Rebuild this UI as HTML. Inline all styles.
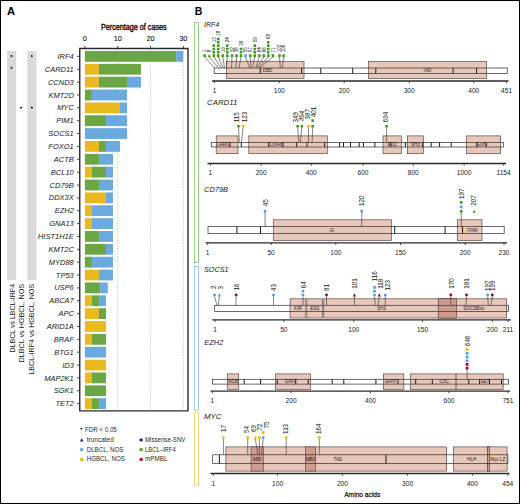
<!DOCTYPE html>
<html><head><meta charset="utf-8"><style>
html,body{margin:0;padding:0;background:#fff;}
svg{display:block;font-family:"Liberation Sans", sans-serif;}
</style></head><body>
<svg width="520" height="504" viewBox="0 0 520 504">
<rect width="520" height="504" fill="#fff"/>
<rect x="0.5" y="0.5" width="519" height="503" fill="none" stroke="#000" stroke-width="1"/>
<text x="7.00" y="15.20" font-size="11.2" text-anchor="start" font-weight="bold" font-style="normal" fill="#000" >A</text>
<text x="194.70" y="15.30" font-size="11.2" text-anchor="start" font-weight="bold" font-style="normal" fill="#000" textLength="7.6" lengthAdjust="spacingAndGlyphs">B</text>
<rect x="7" y="51" width="9.1" height="229.2" fill="#dadada"/>
<rect x="27.3" y="51" width="9.2" height="229.2" fill="#dadada"/>
<line x1="117.73" y1="49" x2="117.73" y2="410" stroke="#b5b5b5" stroke-width="0.6" stroke-dasharray="1.6,1.2"/>
<line x1="150.56" y1="49" x2="150.56" y2="410" stroke="#b5b5b5" stroke-width="0.6" stroke-dasharray="1.6,1.2"/>
<line x1="183.39" y1="49" x2="183.39" y2="410" stroke="#b5b5b5" stroke-width="0.6" stroke-dasharray="1.6,1.2"/>
<rect x="84.90" y="51.00" width="91.26" height="10.8" fill="#6aa644"/>
<rect x="176.16" y="51.00" width="7.02" height="10.8" fill="#6aaade"/>
<text x="73.80" y="59.00" font-size="7.5" text-anchor="end" font-weight="normal" font-style="italic" fill="#1a1a1a" >IRF4</text>
<line x1="76.9" y1="56.40" x2="79.5" y2="56.40" stroke="#222" stroke-width="0.8"/>
<rect x="84.90" y="63.86" width="14.04" height="10.8" fill="#e9b920"/>
<rect x="98.94" y="63.86" width="42.12" height="10.8" fill="#6aa644"/>
<text x="73.80" y="71.86" font-size="7.5" text-anchor="end" font-weight="normal" font-style="italic" fill="#1a1a1a" >CARD11</text>
<line x1="76.9" y1="69.26" x2="79.5" y2="69.26" stroke="#222" stroke-width="0.8"/>
<rect x="84.90" y="76.72" width="14.04" height="10.8" fill="#e9b920"/>
<rect x="98.94" y="76.72" width="28.08" height="10.8" fill="#6aa644"/>
<rect x="127.02" y="76.72" width="14.04" height="10.8" fill="#6aaade"/>
<text x="73.80" y="84.72" font-size="7.5" text-anchor="end" font-weight="normal" font-style="italic" fill="#1a1a1a" >CCND3</text>
<line x1="76.9" y1="82.12" x2="79.5" y2="82.12" stroke="#222" stroke-width="0.8"/>
<rect x="84.90" y="89.58" width="7.02" height="10.8" fill="#6aa644"/>
<rect x="91.92" y="89.58" width="35.10" height="10.8" fill="#6aaade"/>
<text x="73.80" y="97.58" font-size="7.5" text-anchor="end" font-weight="normal" font-style="italic" fill="#1a1a1a" >KMT2D</text>
<line x1="76.9" y1="94.98" x2="79.5" y2="94.98" stroke="#222" stroke-width="0.8"/>
<rect x="84.90" y="102.44" width="35.10" height="10.8" fill="#e9b920"/>
<rect x="120.00" y="102.44" width="7.02" height="10.8" fill="#6aaade"/>
<text x="73.80" y="110.44" font-size="7.5" text-anchor="end" font-weight="normal" font-style="italic" fill="#1a1a1a" >MYC</text>
<line x1="76.9" y1="107.84" x2="79.5" y2="107.84" stroke="#222" stroke-width="0.8"/>
<rect x="84.90" y="115.30" width="21.06" height="10.8" fill="#6aa644"/>
<rect x="105.96" y="115.30" width="21.06" height="10.8" fill="#6aaade"/>
<text x="73.80" y="123.30" font-size="7.5" text-anchor="end" font-weight="normal" font-style="italic" fill="#1a1a1a" >PIM1</text>
<line x1="76.9" y1="120.70" x2="79.5" y2="120.70" stroke="#222" stroke-width="0.8"/>
<rect x="84.90" y="128.16" width="42.12" height="10.8" fill="#6aaade"/>
<text x="73.80" y="136.16" font-size="7.5" text-anchor="end" font-weight="normal" font-style="italic" fill="#1a1a1a" >SOCS1</text>
<line x1="76.9" y1="133.56" x2="79.5" y2="133.56" stroke="#222" stroke-width="0.8"/>
<rect x="84.90" y="141.02" width="14.04" height="10.8" fill="#e9b920"/>
<rect x="98.94" y="141.02" width="7.02" height="10.8" fill="#6aa644"/>
<rect x="105.96" y="141.02" width="14.04" height="10.8" fill="#6aaade"/>
<text x="73.80" y="149.02" font-size="7.5" text-anchor="end" font-weight="normal" font-style="italic" fill="#1a1a1a" >FOXO1</text>
<line x1="76.9" y1="146.42" x2="79.5" y2="146.42" stroke="#222" stroke-width="0.8"/>
<rect x="84.90" y="153.88" width="14.04" height="10.8" fill="#6aa644"/>
<rect x="98.94" y="153.88" width="14.04" height="10.8" fill="#6aaade"/>
<text x="73.80" y="161.88" font-size="7.5" text-anchor="end" font-weight="normal" font-style="italic" fill="#1a1a1a" >ACTB</text>
<line x1="76.9" y1="159.28" x2="79.5" y2="159.28" stroke="#222" stroke-width="0.8"/>
<rect x="84.90" y="166.74" width="7.02" height="10.8" fill="#e9b920"/>
<rect x="91.92" y="166.74" width="14.04" height="10.8" fill="#6aa644"/>
<rect x="105.96" y="166.74" width="7.02" height="10.8" fill="#6aaade"/>
<text x="73.80" y="174.74" font-size="7.5" text-anchor="end" font-weight="normal" font-style="italic" fill="#1a1a1a" >BCL10</text>
<line x1="76.9" y1="172.14" x2="79.5" y2="172.14" stroke="#222" stroke-width="0.8"/>
<rect x="84.90" y="179.60" width="14.04" height="10.8" fill="#6aa644"/>
<rect x="98.94" y="179.60" width="14.04" height="10.8" fill="#6aaade"/>
<text x="73.80" y="187.60" font-size="7.5" text-anchor="end" font-weight="normal" font-style="italic" fill="#1a1a1a" >CD79B</text>
<line x1="76.9" y1="185.00" x2="79.5" y2="185.00" stroke="#222" stroke-width="0.8"/>
<rect x="84.90" y="192.46" width="21.06" height="10.8" fill="#e9b920"/>
<rect x="105.96" y="192.46" width="7.02" height="10.8" fill="#6aaade"/>
<text x="73.80" y="200.46" font-size="7.5" text-anchor="end" font-weight="normal" font-style="italic" fill="#1a1a1a" >DDX3X</text>
<line x1="76.9" y1="197.86" x2="79.5" y2="197.86" stroke="#222" stroke-width="0.8"/>
<rect x="84.90" y="205.32" width="7.02" height="10.8" fill="#e9b920"/>
<rect x="91.92" y="205.32" width="21.06" height="10.8" fill="#6aaade"/>
<text x="73.80" y="213.32" font-size="7.5" text-anchor="end" font-weight="normal" font-style="italic" fill="#1a1a1a" >EZH2</text>
<line x1="76.9" y1="210.72" x2="79.5" y2="210.72" stroke="#222" stroke-width="0.8"/>
<rect x="84.90" y="218.18" width="7.02" height="10.8" fill="#e9b920"/>
<rect x="91.92" y="218.18" width="21.06" height="10.8" fill="#6aaade"/>
<text x="73.80" y="226.18" font-size="7.5" text-anchor="end" font-weight="normal" font-style="italic" fill="#1a1a1a" >GNA13</text>
<line x1="76.9" y1="223.58" x2="79.5" y2="223.58" stroke="#222" stroke-width="0.8"/>
<rect x="84.90" y="231.04" width="14.04" height="10.8" fill="#6aa644"/>
<rect x="98.94" y="231.04" width="14.04" height="10.8" fill="#6aaade"/>
<text x="73.80" y="239.04" font-size="7.5" text-anchor="end" font-weight="normal" font-style="italic" fill="#1a1a1a" >HIST1H1E</text>
<line x1="76.9" y1="236.44" x2="79.5" y2="236.44" stroke="#222" stroke-width="0.8"/>
<rect x="84.90" y="243.90" width="21.06" height="10.8" fill="#6aa644"/>
<rect x="105.96" y="243.90" width="7.02" height="10.8" fill="#6aaade"/>
<text x="73.80" y="251.90" font-size="7.5" text-anchor="end" font-weight="normal" font-style="italic" fill="#1a1a1a" >KMT2C</text>
<line x1="76.9" y1="249.30" x2="79.5" y2="249.30" stroke="#222" stroke-width="0.8"/>
<rect x="84.90" y="256.76" width="7.02" height="10.8" fill="#6aa644"/>
<rect x="91.92" y="256.76" width="21.06" height="10.8" fill="#6aaade"/>
<text x="73.80" y="264.76" font-size="7.5" text-anchor="end" font-weight="normal" font-style="italic" fill="#1a1a1a" >MYD88</text>
<line x1="76.9" y1="262.16" x2="79.5" y2="262.16" stroke="#222" stroke-width="0.8"/>
<rect x="84.90" y="269.62" width="14.04" height="10.8" fill="#e9b920"/>
<rect x="98.94" y="269.62" width="14.04" height="10.8" fill="#6aaade"/>
<text x="73.80" y="277.62" font-size="7.5" text-anchor="end" font-weight="normal" font-style="italic" fill="#1a1a1a" >TP53</text>
<line x1="76.9" y1="275.02" x2="79.5" y2="275.02" stroke="#222" stroke-width="0.8"/>
<rect x="84.90" y="282.48" width="15.30" height="10.8" fill="#6aa644"/>
<rect x="100.20" y="282.48" width="7.58" height="10.8" fill="#6aaade"/>
<text x="73.80" y="290.48" font-size="7.5" text-anchor="end" font-weight="normal" font-style="italic" fill="#1a1a1a" >USP6</text>
<line x1="76.9" y1="287.88" x2="79.5" y2="287.88" stroke="#222" stroke-width="0.8"/>
<rect x="84.90" y="295.34" width="7.02" height="10.8" fill="#e9b920"/>
<rect x="91.92" y="295.34" width="7.02" height="10.8" fill="#6aa644"/>
<rect x="98.94" y="295.34" width="7.02" height="10.8" fill="#6aaade"/>
<text x="73.80" y="303.34" font-size="7.5" text-anchor="end" font-weight="normal" font-style="italic" fill="#1a1a1a" >ABCA7</text>
<line x1="76.9" y1="300.74" x2="79.5" y2="300.74" stroke="#222" stroke-width="0.8"/>
<rect x="84.90" y="308.20" width="14.04" height="10.8" fill="#e9b920"/>
<rect x="98.94" y="308.20" width="7.02" height="10.8" fill="#6aa644"/>
<text x="73.80" y="316.20" font-size="7.5" text-anchor="end" font-weight="normal" font-style="italic" fill="#1a1a1a" >APC</text>
<line x1="76.9" y1="313.60" x2="79.5" y2="313.60" stroke="#222" stroke-width="0.8"/>
<rect x="84.90" y="321.06" width="21.06" height="10.8" fill="#e9b920"/>
<text x="73.80" y="329.06" font-size="7.5" text-anchor="end" font-weight="normal" font-style="italic" fill="#1a1a1a" >ARID1A</text>
<line x1="76.9" y1="326.46" x2="79.5" y2="326.46" stroke="#222" stroke-width="0.8"/>
<rect x="84.90" y="333.92" width="7.02" height="10.8" fill="#e9b920"/>
<rect x="91.92" y="333.92" width="14.04" height="10.8" fill="#6aa644"/>
<text x="73.80" y="341.92" font-size="7.5" text-anchor="end" font-weight="normal" font-style="italic" fill="#1a1a1a" >BRAF</text>
<line x1="76.9" y1="339.32" x2="79.5" y2="339.32" stroke="#222" stroke-width="0.8"/>
<rect x="84.90" y="346.78" width="21.06" height="10.8" fill="#6aaade"/>
<text x="73.80" y="354.78" font-size="7.5" text-anchor="end" font-weight="normal" font-style="italic" fill="#1a1a1a" >BTG1</text>
<line x1="76.9" y1="352.18" x2="79.5" y2="352.18" stroke="#222" stroke-width="0.8"/>
<rect x="84.90" y="359.64" width="21.06" height="10.8" fill="#e9b920"/>
<text x="73.80" y="367.64" font-size="7.5" text-anchor="end" font-weight="normal" font-style="italic" fill="#1a1a1a" >ID3</text>
<line x1="76.9" y1="365.04" x2="79.5" y2="365.04" stroke="#222" stroke-width="0.8"/>
<rect x="84.90" y="372.50" width="7.02" height="10.8" fill="#e9b920"/>
<rect x="91.92" y="372.50" width="14.04" height="10.8" fill="#6aa644"/>
<text x="73.80" y="380.50" font-size="7.5" text-anchor="end" font-weight="normal" font-style="italic" fill="#1a1a1a" >MAP2K1</text>
<line x1="76.9" y1="377.90" x2="79.5" y2="377.90" stroke="#222" stroke-width="0.8"/>
<rect x="84.90" y="385.36" width="21.06" height="10.8" fill="#6aa644"/>
<text x="73.80" y="393.36" font-size="7.5" text-anchor="end" font-weight="normal" font-style="italic" fill="#1a1a1a" >SGK1</text>
<line x1="76.9" y1="390.76" x2="79.5" y2="390.76" stroke="#222" stroke-width="0.8"/>
<rect x="84.90" y="398.22" width="7.02" height="10.8" fill="#e9b920"/>
<rect x="91.92" y="398.22" width="7.02" height="10.8" fill="#6aa644"/>
<rect x="98.94" y="398.22" width="7.02" height="10.8" fill="#6aaade"/>
<text x="73.80" y="406.22" font-size="7.5" text-anchor="end" font-weight="normal" font-style="italic" fill="#1a1a1a" >TET2</text>
<line x1="76.9" y1="403.62" x2="79.5" y2="403.62" stroke="#222" stroke-width="0.8"/>
<polygon points="11.50,54.55 11.91,55.43 12.88,55.55 12.17,56.22 12.35,57.17 11.50,56.70 10.65,57.17 10.83,56.22 10.12,55.55 11.09,55.43" fill="#111"/>
<polygon points="31.80,54.65 32.21,55.53 33.18,55.65 32.47,56.32 32.65,57.27 31.80,56.80 30.95,57.27 31.13,56.32 30.42,55.65 31.39,55.53" fill="#111"/>
<polygon points="11.50,66.41 11.91,67.29 12.88,67.41 12.17,68.08 12.35,69.03 11.50,68.56 10.65,69.03 10.83,68.08 10.12,67.41 11.09,67.29" fill="#111"/>
<polygon points="21.10,106.09 21.51,106.97 22.48,107.09 21.77,107.76 21.95,108.71 21.10,108.24 20.25,108.71 20.43,107.76 19.72,107.09 20.69,106.97" fill="#111"/>
<polygon points="31.80,106.09 32.21,106.97 33.18,107.09 32.47,107.76 32.65,108.71 31.80,108.24 30.95,108.71 31.13,107.76 30.42,107.09 31.39,106.97" fill="#111"/>
<path d="M79.75,48.5 H188 V410.9 H79.75 Z" fill="none" stroke="#2a2a2a" stroke-width="1.4"/>
<line x1="84.90" y1="45.8" x2="84.90" y2="48.5" stroke="#222" stroke-width="0.8"/>
<text x="84.90" y="41.00" font-size="7.3" text-anchor="middle" font-weight="normal" font-style="normal" fill="#111" stroke="#111" stroke-width="0.1">0</text>
<line x1="117.73" y1="45.8" x2="117.73" y2="48.5" stroke="#222" stroke-width="0.8"/>
<text x="117.73" y="41.00" font-size="7.3" text-anchor="middle" font-weight="normal" font-style="normal" fill="#111" stroke="#111" stroke-width="0.1">10</text>
<line x1="150.56" y1="45.8" x2="150.56" y2="48.5" stroke="#222" stroke-width="0.8"/>
<text x="150.56" y="41.00" font-size="7.3" text-anchor="middle" font-weight="normal" font-style="normal" fill="#111" stroke="#111" stroke-width="0.1">20</text>
<line x1="183.39" y1="45.8" x2="183.39" y2="48.5" stroke="#222" stroke-width="0.8"/>
<text x="183.39" y="41.00" font-size="7.3" text-anchor="middle" font-weight="normal" font-style="normal" fill="#111" stroke="#111" stroke-width="0.1">30</text>
<text x="101" y="30.2" font-size="8.5" fill="#111" stroke="#111" stroke-width="0.4" textLength="65.6" lengthAdjust="spacingAndGlyphs">Percentage of cases</text>
<text transform="translate(14.6,352.5) rotate(-90)" font-size="7.2" fill="#111" textLength="68.6" lengthAdjust="spacingAndGlyphs">DLBCL vs LBCL-IRF4</text>
<text transform="translate(24.4,362.5) rotate(-90)" font-size="7.2" fill="#111" textLength="78.6" lengthAdjust="spacingAndGlyphs">DLBCL vs HGBCL, NOS</text>
<text transform="translate(34.4,374.6) rotate(-90)" font-size="7.2" fill="#111" textLength="90.7" lengthAdjust="spacingAndGlyphs">LBCL-IRF4 vs HGBCL, NOS</text>
<circle cx="81.3" cy="428.6" r="0.9" fill="#111"/>
<text x="84.9" y="431.5" font-size="6.3" fill="#2a2a2a" textLength="31.9" lengthAdjust="spacingAndGlyphs">FDR &lt; 0.05</text>
<path d="M80.0,441.6 L81.75,438.1 L83.5,441.6 Z" fill="#1a2a6a"/>
<text x="86.7" y="441.6" font-size="6.3" fill="#2a2a2a" textLength="27.1" lengthAdjust="spacingAndGlyphs">truncated</text>
<rect x="139.6" y="438.5" width="3.1" height="2.9" fill="#1a2a6a"/>
<text x="145.0" y="441.6" font-size="6.3" fill="#2a2a2a" textLength="40.4" lengthAdjust="spacingAndGlyphs">Missense-SNV</text>
<rect x="80.1" y="448.2" width="3.2" height="2.9" fill="#6aaade"/>
<text x="86.7" y="451.8" font-size="6.3" fill="#2a2a2a" textLength="36.8" lengthAdjust="spacingAndGlyphs">DLBCL, NOS</text>
<rect x="139.6" y="448.2" width="3.1" height="2.9" fill="#5aa030"/>
<text x="145.0" y="451.8" font-size="6.3" fill="#2a2a2a" textLength="30.7" lengthAdjust="spacingAndGlyphs">LBCL–IRF4</text>
<rect x="80.1" y="458.0" width="3.2" height="2.9" fill="#e9b920"/>
<text x="86.7" y="461.3" font-size="6.3" fill="#2a2a2a" textLength="38.2" lengthAdjust="spacingAndGlyphs">HGBCL, NOS</text>
<rect x="139.6" y="458.0" width="3.1" height="2.9" fill="#b0102a"/>
<text x="145.0" y="461.3" font-size="6.3" fill="#2a2a2a" textLength="22.4" lengthAdjust="spacingAndGlyphs">mPMBL</text>
<rect x="194.6" y="22.4" width="3.9" height="240.1" fill="none" stroke="#9fcb84" stroke-width="1"/>
<rect x="194.6" y="266.5" width="3.9" height="143.7" fill="none" stroke="#a6caee" stroke-width="1"/>
<rect x="194.6" y="412.7" width="3.9" height="72.6" fill="none" stroke="#efd57a" stroke-width="1"/>
<rect x="214.20" y="68.00" width="293.10" height="5.40" fill="#fff"/>
<rect x="226.40" y="61.30" width="77.60" height="17.30" fill="#e8c7bb" stroke="#5a4a46" stroke-width="0.7"/>
<rect x="368.40" y="61.30" width="118.10" height="17.30" fill="#e8c7bb" stroke="#5a4a46" stroke-width="0.7"/>
<rect x="214.20" y="68.00" width="293.10" height="5.40" fill="none" stroke="#3a3a3a" stroke-width="0.75"/>
<line x1="260.30" y1="68.00" x2="260.30" y2="73.40" stroke="#111" stroke-width="0.95"/>
<line x1="301.60" y1="68.00" x2="301.60" y2="73.40" stroke="#111" stroke-width="0.95"/>
<line x1="320.80" y1="68.00" x2="320.80" y2="73.40" stroke="#111" stroke-width="0.95"/>
<line x1="352.70" y1="68.00" x2="352.70" y2="73.40" stroke="#111" stroke-width="0.95"/>
<line x1="375.80" y1="68.00" x2="375.80" y2="73.40" stroke="#111" stroke-width="0.95"/>
<line x1="453.10" y1="68.00" x2="453.10" y2="73.40" stroke="#111" stroke-width="0.95"/>
<line x1="476.60" y1="68.00" x2="476.60" y2="73.40" stroke="#111" stroke-width="0.95"/>
<text x="267.50" y="72.36" font-size="4.6" text-anchor="middle" font-weight="normal" font-style="normal" fill="#222" >DBD</text>
<text x="427.45" y="72.36" font-size="4.6" text-anchor="middle" font-weight="normal" font-style="normal" fill="#222" >IAD</text>
<line x1="212.00" y1="81.00" x2="508.50" y2="81.00" stroke="#2a2a2a" stroke-width="1.3"/>
<line x1="214.50" y1="81.00" x2="214.50" y2="83.20" stroke="#2a2a2a" stroke-width="0.8"/>
<text x="214.50" y="92.60" font-size="6.6" text-anchor="middle" font-weight="normal" font-style="normal" fill="#222" >1</text>
<line x1="279.30" y1="81.00" x2="279.30" y2="83.20" stroke="#2a2a2a" stroke-width="0.8"/>
<text x="279.30" y="92.60" font-size="6.6" text-anchor="middle" font-weight="normal" font-style="normal" fill="#222" >100</text>
<line x1="344.20" y1="81.00" x2="344.20" y2="83.20" stroke="#2a2a2a" stroke-width="0.8"/>
<text x="344.20" y="92.60" font-size="6.6" text-anchor="middle" font-weight="normal" font-style="normal" fill="#222" >200</text>
<line x1="409.20" y1="81.00" x2="409.20" y2="83.20" stroke="#2a2a2a" stroke-width="0.8"/>
<text x="409.20" y="92.60" font-size="6.6" text-anchor="middle" font-weight="normal" font-style="normal" fill="#222" >300</text>
<line x1="473.80" y1="81.00" x2="473.80" y2="83.20" stroke="#2a2a2a" stroke-width="0.8"/>
<text x="473.80" y="92.60" font-size="6.6" text-anchor="middle" font-weight="normal" font-style="normal" fill="#222" >400</text>
<line x1="506.60" y1="81.00" x2="506.60" y2="83.20" stroke="#2a2a2a" stroke-width="0.8"/>
<text x="506.60" y="92.60" font-size="6.6" text-anchor="middle" font-weight="normal" font-style="normal" fill="#222" >451</text>
<text x="204.00" y="27.20" font-size="7.6" text-anchor="start" font-weight="normal" font-style="italic" fill="#1a1a1a" textLength="15.3" lengthAdjust="spacingAndGlyphs">IRF4</text>
<line x1="204.60" y1="56.90" x2="214.60" y2="68.00" stroke="#333" stroke-width="0.6"/>
<rect x="203.30" y="54.30" width="2.60" height="2.60" rx="0.35" fill="#3f9a1e"/>
<text transform="translate(206.47,52.30) rotate(-90) scale(0.87,1)" font-size="5.20" fill="#111">1</text>
<line x1="209.20" y1="56.90" x2="218.50" y2="68.00" stroke="#333" stroke-width="0.6"/>
<path d="M207.65,57.00 L209.20,53.95 L210.75,57.00 Z" fill="#3f9a1e"/>
<text transform="translate(211.07,52.30) rotate(-90) scale(0.87,1)" font-size="5.20" fill="#111">8</text>
<line x1="213.80" y1="56.90" x2="221.20" y2="68.00" stroke="#333" stroke-width="0.6"/>
<rect x="212.50" y="54.30" width="2.60" height="2.60" rx="0.35" fill="#3f9a1e"/>
<rect x="212.50" y="50.97" width="2.60" height="2.60" rx="0.35" fill="#3f9a1e"/>
<rect x="212.50" y="47.64" width="2.60" height="2.60" rx="0.35" fill="#3f9a1e"/>
<rect x="212.50" y="44.31" width="2.60" height="2.60" rx="0.35" fill="#3f9a1e"/>
<text transform="translate(215.67,42.31) rotate(-90) scale(0.87,1)" font-size="5.20" fill="#111">13</text>
<line x1="218.30" y1="56.90" x2="223.10" y2="68.00" stroke="#333" stroke-width="0.6"/>
<rect x="217.00" y="54.30" width="2.60" height="2.60" rx="0.35" fill="#3f9a1e"/>
<rect x="217.00" y="50.97" width="2.60" height="2.60" rx="0.35" fill="#3f9a1e"/>
<rect x="217.00" y="47.64" width="2.60" height="2.60" rx="0.35" fill="#3f9a1e"/>
<rect x="217.00" y="44.31" width="2.60" height="2.60" rx="0.35" fill="#3f9a1e"/>
<rect x="217.00" y="40.98" width="2.60" height="2.60" rx="0.35" fill="#3f9a1e"/>
<rect x="217.00" y="37.65" width="2.60" height="2.60" rx="0.35" fill="#3f9a1e"/>
<text transform="translate(220.17,35.65) rotate(-90) scale(0.87,1)" font-size="5.20" fill="#111">18</text>
<line x1="222.80" y1="56.90" x2="224.50" y2="68.00" stroke="#333" stroke-width="0.6"/>
<rect x="221.50" y="54.30" width="2.60" height="2.60" rx="0.35" fill="#3f9a1e"/>
<text transform="translate(224.67,52.30) rotate(-90) scale(0.87,1)" font-size="5.20" fill="#111">19</text>
<line x1="227.30" y1="56.90" x2="226.30" y2="68.00" stroke="#333" stroke-width="0.6"/>
<rect x="226.00" y="54.30" width="2.60" height="2.60" rx="0.35" fill="#3f9a1e"/>
<rect x="226.00" y="50.97" width="2.60" height="2.60" rx="0.35" fill="#3f9a1e"/>
<rect x="226.00" y="47.64" width="2.60" height="2.60" rx="0.35" fill="#3f9a1e"/>
<rect x="226.00" y="44.31" width="2.60" height="2.60" rx="0.35" fill="#3f9a1e"/>
<text transform="translate(229.17,42.31) rotate(-90) scale(0.87,1)" font-size="5.20" fill="#111">24</text>
<line x1="232.00" y1="56.90" x2="231.50" y2="68.00" stroke="#333" stroke-width="0.6"/>
<rect x="230.70" y="54.30" width="2.60" height="2.60" rx="0.35" fill="#3f9a1e"/>
<text transform="translate(233.87,52.30) rotate(-90) scale(0.87,1)" font-size="5.20" fill="#111">32</text>
<line x1="236.50" y1="56.90" x2="236.00" y2="68.00" stroke="#333" stroke-width="0.6"/>
<rect x="235.20" y="54.30" width="2.60" height="2.60" rx="0.35" fill="#3f9a1e"/>
<text transform="translate(238.37,52.30) rotate(-90) scale(0.87,1)" font-size="5.20" fill="#111">36</text>
<line x1="241.00" y1="56.90" x2="239.10" y2="68.00" stroke="#333" stroke-width="0.6"/>
<rect x="239.70" y="54.30" width="2.60" height="2.60" rx="0.35" fill="#3f9a1e"/>
<rect x="239.70" y="50.97" width="2.60" height="2.60" rx="0.35" fill="#3f9a1e"/>
<rect x="239.70" y="47.64" width="2.60" height="2.60" rx="0.35" fill="#3f9a1e"/>
<text transform="translate(242.87,45.64) rotate(-90) scale(0.87,1)" font-size="5.20" fill="#111">39</text>
<line x1="245.60" y1="56.90" x2="249.80" y2="68.00" stroke="#333" stroke-width="0.6"/>
<rect x="244.30" y="54.30" width="2.60" height="2.60" rx="0.35" fill="#4d9ee0"/>
<text transform="translate(247.47,52.30) rotate(-90) scale(0.87,1)" font-size="5.20" fill="#111">55</text>
<line x1="250.20" y1="56.90" x2="251.00" y2="68.00" stroke="#333" stroke-width="0.6"/>
<rect x="248.90" y="54.30" width="2.60" height="2.60" rx="0.35" fill="#3f9a1e"/>
<text transform="translate(252.07,52.30) rotate(-90) scale(0.87,1)" font-size="5.20" fill="#111">57</text>
<line x1="254.80" y1="56.90" x2="252.50" y2="68.00" stroke="#333" stroke-width="0.6"/>
<rect x="253.50" y="54.30" width="2.60" height="2.60" rx="0.35" fill="#3f9a1e"/>
<rect x="253.50" y="50.97" width="2.60" height="2.60" rx="0.35" fill="#3f9a1e"/>
<rect x="253.50" y="47.64" width="2.60" height="2.60" rx="0.35" fill="#3f9a1e"/>
<rect x="253.50" y="44.31" width="2.60" height="2.60" rx="0.35" fill="#3f9a1e"/>
<text transform="translate(256.67,42.31) rotate(-90) scale(0.87,1)" font-size="5.20" fill="#111">59</text>
<line x1="259.40" y1="56.90" x2="255.60" y2="68.00" stroke="#333" stroke-width="0.6"/>
<rect x="258.10" y="54.30" width="2.60" height="2.60" rx="0.35" fill="#3f9a1e"/>
<text transform="translate(261.27,52.30) rotate(-90) scale(0.87,1)" font-size="5.20" fill="#111">64</text>
<line x1="263.80" y1="56.90" x2="256.80" y2="68.00" stroke="#333" stroke-width="0.6"/>
<rect x="262.50" y="54.30" width="2.60" height="2.60" rx="0.35" fill="#3f9a1e"/>
<text transform="translate(265.67,52.30) rotate(-90) scale(0.87,1)" font-size="5.20" fill="#111">66</text>
<line x1="268.30" y1="56.90" x2="258.30" y2="68.00" stroke="#333" stroke-width="0.6"/>
<rect x="267.00" y="54.30" width="2.60" height="2.60" rx="0.35" fill="#3f9a1e"/>
<rect x="267.00" y="50.97" width="2.60" height="2.60" rx="0.35" fill="#3f9a1e"/>
<rect x="267.00" y="47.64" width="2.60" height="2.60" rx="0.35" fill="#3f9a1e"/>
<rect x="267.00" y="44.31" width="2.60" height="2.60" rx="0.35" fill="#3f9a1e"/>
<rect x="267.00" y="40.98" width="2.60" height="2.60" rx="0.35" fill="#3f9a1e"/>
<text transform="translate(270.17,38.98) rotate(-90) scale(0.87,1)" font-size="5.20" fill="#111">68</text>
<line x1="272.90" y1="56.90" x2="259.50" y2="68.00" stroke="#333" stroke-width="0.6"/>
<rect x="271.60" y="54.30" width="2.60" height="2.60" rx="0.35" fill="#3f9a1e"/>
<text transform="translate(274.77,52.30) rotate(-90) scale(0.87,1)" font-size="5.20" fill="#111">71</text>
<line x1="279.50" y1="56.90" x2="280.40" y2="68.00" stroke="#333" stroke-width="0.6"/>
<rect x="278.20" y="54.30" width="2.60" height="2.60" rx="0.35" fill="#3f9a1e"/>
<text transform="translate(281.37,52.30) rotate(-90) scale(0.87,1)" font-size="5.20" fill="#111">103</text>
<line x1="283.60" y1="56.90" x2="282.30" y2="68.00" stroke="#333" stroke-width="0.6"/>
<rect x="282.30" y="54.30" width="2.60" height="2.60" rx="0.35" fill="#3f9a1e"/>
<text transform="translate(285.47,52.30) rotate(-90) scale(0.87,1)" font-size="5.20" fill="#111">106</text>
<rect x="211.25" y="142.40" width="292.35" height="4.60" fill="#fff"/>
<rect x="216.20" y="135.90" width="21.80" height="17.80" fill="#e8c7bb" stroke="#5a4a46" stroke-width="0.7"/>
<rect x="248.80" y="135.90" width="78.50" height="17.80" fill="#e8c7bb" stroke="#5a4a46" stroke-width="0.7"/>
<rect x="383.00" y="135.90" width="18.30" height="17.80" fill="#e8c7bb" stroke="#5a4a46" stroke-width="0.7"/>
<rect x="407.50" y="135.90" width="15.80" height="17.80" fill="#e8c7bb" stroke="#5a4a46" stroke-width="0.7"/>
<rect x="466.30" y="135.90" width="34.30" height="17.80" fill="#e8c7bb" stroke="#5a4a46" stroke-width="0.7"/>
<rect x="211.25" y="142.40" width="292.35" height="4.60" fill="none" stroke="#3a3a3a" stroke-width="0.75"/>
<line x1="230.00" y1="142.40" x2="230.00" y2="147.00" stroke="#111" stroke-width="0.95"/>
<line x1="241.30" y1="142.40" x2="241.30" y2="147.00" stroke="#111" stroke-width="0.95"/>
<line x1="268.70" y1="142.40" x2="268.70" y2="147.00" stroke="#111" stroke-width="0.95"/>
<line x1="283.00" y1="142.40" x2="283.00" y2="147.00" stroke="#111" stroke-width="0.95"/>
<line x1="296.70" y1="142.40" x2="296.70" y2="147.00" stroke="#111" stroke-width="0.95"/>
<line x1="307.00" y1="142.40" x2="307.00" y2="147.00" stroke="#111" stroke-width="0.95"/>
<line x1="324.60" y1="142.40" x2="324.60" y2="147.00" stroke="#111" stroke-width="0.95"/>
<line x1="339.60" y1="142.40" x2="339.60" y2="147.00" stroke="#111" stroke-width="0.95"/>
<line x1="343.50" y1="142.40" x2="343.50" y2="147.00" stroke="#111" stroke-width="0.95"/>
<line x1="350.50" y1="142.40" x2="350.50" y2="147.00" stroke="#111" stroke-width="0.95"/>
<line x1="359.20" y1="142.40" x2="359.20" y2="147.00" stroke="#111" stroke-width="0.95"/>
<line x1="363.40" y1="142.40" x2="363.40" y2="147.00" stroke="#111" stroke-width="0.95"/>
<line x1="374.90" y1="142.40" x2="374.90" y2="147.00" stroke="#111" stroke-width="0.95"/>
<line x1="390.40" y1="142.40" x2="390.40" y2="147.00" stroke="#111" stroke-width="0.95"/>
<line x1="405.40" y1="142.40" x2="405.40" y2="147.00" stroke="#111" stroke-width="0.95"/>
<line x1="422.60" y1="142.40" x2="422.60" y2="147.00" stroke="#111" stroke-width="0.95"/>
<line x1="431.20" y1="142.40" x2="431.20" y2="147.00" stroke="#111" stroke-width="0.95"/>
<line x1="439.60" y1="142.40" x2="439.60" y2="147.00" stroke="#111" stroke-width="0.95"/>
<line x1="451.20" y1="142.40" x2="451.20" y2="147.00" stroke="#111" stroke-width="0.95"/>
<line x1="476.80" y1="142.40" x2="476.80" y2="147.00" stroke="#111" stroke-width="0.95"/>
<line x1="486.30" y1="142.40" x2="486.30" y2="147.00" stroke="#111" stroke-width="0.95"/>
<text x="223.00" y="146.36" font-size="4.6" text-anchor="middle" font-weight="normal" font-style="normal" fill="#222" >CARD</text>
<text x="275.80" y="146.36" font-size="4.6" text-anchor="middle" font-weight="normal" font-style="normal" fill="#222" >Coiled</text>
<text x="392.15" y="146.36" font-size="4.6" text-anchor="middle" font-weight="normal" font-style="normal" fill="#222" >PDZ</text>
<text x="415.40" y="146.36" font-size="4.6" text-anchor="middle" font-weight="normal" font-style="normal" fill="#222" >SH3</text>
<text x="481.40" y="146.36" font-size="4.6" text-anchor="middle" font-weight="normal" font-style="normal" fill="#222" >GUK</text>
<line x1="207.50" y1="163.50" x2="506.00" y2="163.50" stroke="#2a2a2a" stroke-width="1.3"/>
<line x1="210.40" y1="163.50" x2="210.40" y2="165.70" stroke="#2a2a2a" stroke-width="0.8"/>
<text x="210.40" y="175.30" font-size="6.6" text-anchor="middle" font-weight="normal" font-style="normal" fill="#222" >1</text>
<line x1="261.20" y1="163.50" x2="261.20" y2="165.70" stroke="#2a2a2a" stroke-width="0.8"/>
<text x="261.20" y="175.30" font-size="6.6" text-anchor="middle" font-weight="normal" font-style="normal" fill="#222" >200</text>
<line x1="311.30" y1="163.50" x2="311.30" y2="165.70" stroke="#2a2a2a" stroke-width="0.8"/>
<text x="311.30" y="175.30" font-size="6.6" text-anchor="middle" font-weight="normal" font-style="normal" fill="#222" >400</text>
<line x1="363.00" y1="163.50" x2="363.00" y2="165.70" stroke="#2a2a2a" stroke-width="0.8"/>
<text x="363.00" y="175.30" font-size="6.6" text-anchor="middle" font-weight="normal" font-style="normal" fill="#222" >600</text>
<line x1="413.30" y1="163.50" x2="413.30" y2="165.70" stroke="#2a2a2a" stroke-width="0.8"/>
<text x="413.30" y="175.30" font-size="6.6" text-anchor="middle" font-weight="normal" font-style="normal" fill="#222" >800</text>
<line x1="464.10" y1="163.50" x2="464.10" y2="165.70" stroke="#2a2a2a" stroke-width="0.8"/>
<text x="464.10" y="175.30" font-size="6.6" text-anchor="middle" font-weight="normal" font-style="normal" fill="#222" >1000</text>
<line x1="503.60" y1="163.50" x2="503.60" y2="165.70" stroke="#2a2a2a" stroke-width="0.8"/>
<text x="503.60" y="175.30" font-size="6.6" text-anchor="middle" font-weight="normal" font-style="normal" fill="#222" >1154</text>
<text x="207.10" y="104.80" font-size="7.6" text-anchor="start" font-weight="normal" font-style="italic" fill="#1a1a1a" textLength="30.2" lengthAdjust="spacingAndGlyphs">CARD11</text>
<line x1="238.50" y1="127.50" x2="239.39" y2="142.40" stroke="#333" stroke-width="0.6"/>
<rect x="237.20" y="124.90" width="2.60" height="2.60" rx="0.35" fill="#3f9a1e"/>
<text transform="translate(239.30,122.20) rotate(-90) scale(0.87,1)" font-size="7.23" fill="#111">115</text>
<line x1="243.10" y1="127.50" x2="241.42" y2="142.40" stroke="#333" stroke-width="0.6"/>
<rect x="241.80" y="124.90" width="2.60" height="2.60" rx="0.35" fill="#f0b800"/>
<text transform="translate(246.90,122.20) rotate(-90) scale(0.87,1)" font-size="7.23" fill="#111">123</text>
<line x1="297.60" y1="127.50" x2="298.90" y2="142.40" stroke="#333" stroke-width="0.6"/>
<rect x="296.30" y="124.90" width="2.60" height="2.60" rx="0.35" fill="#3f9a1e"/>
<text transform="translate(298.10,122.60) rotate(-90) scale(0.87,1)" font-size="7.23" fill="#111">349</text>
<line x1="301.90" y1="127.50" x2="300.17" y2="142.40" stroke="#333" stroke-width="0.6"/>
<rect x="300.60" y="124.90" width="2.60" height="2.60" rx="0.35" fill="#3f9a1e"/>
<text transform="translate(303.30,121.40) rotate(-84) scale(0.87,1)" font-size="7.23" fill="#111">354</text>
<line x1="308.50" y1="127.50" x2="308.56" y2="142.40" stroke="#333" stroke-width="0.6"/>
<rect x="307.20" y="124.90" width="2.60" height="2.60" rx="0.35" fill="#f0b800"/>
<text transform="translate(309.90,119.40) rotate(-90) scale(0.87,1)" font-size="7.23" fill="#111">387</text>
<line x1="312.60" y1="127.50" x2="312.12" y2="142.40" stroke="#333" stroke-width="0.6"/>
<rect x="311.30" y="124.90" width="2.60" height="2.60" rx="0.35" fill="#3f9a1e"/>
<rect x="311.30" y="119.30" width="2.60" height="2.60" rx="0.35" fill="#3f9a1e"/>
<text transform="translate(316.20,117.30) rotate(-90) scale(0.87,1)" font-size="7.23" fill="#111">401</text>
<line x1="386.60" y1="127.50" x2="386.63" y2="142.40" stroke="#333" stroke-width="0.6"/>
<rect x="385.30" y="124.90" width="2.60" height="2.60" rx="0.35" fill="#3f9a1e"/>
<text transform="translate(388.30,122.30) rotate(-90) scale(0.87,1)" font-size="7.23" fill="#111">694</text>
<rect x="208.00" y="226.40" width="296.20" height="7.10" fill="#fff"/>
<rect x="273.30" y="219.80" width="118.10" height="20.80" fill="#e8c7bb" stroke="#5a4a46" stroke-width="0.7"/>
<rect x="457.30" y="219.80" width="24.70" height="20.80" fill="#e8c7bb" stroke="#5a4a46" stroke-width="0.7"/>
<rect x="208.00" y="226.40" width="296.20" height="7.10" fill="none" stroke="#3a3a3a" stroke-width="0.75"/>
<line x1="236.90" y1="226.40" x2="236.90" y2="233.50" stroke="#111" stroke-width="0.95"/>
<line x1="260.50" y1="226.40" x2="260.50" y2="233.50" stroke="#111" stroke-width="0.95"/>
<line x1="394.70" y1="226.40" x2="394.70" y2="233.50" stroke="#111" stroke-width="0.95"/>
<line x1="445.10" y1="226.40" x2="445.10" y2="233.50" stroke="#111" stroke-width="0.95"/>
<line x1="462.50" y1="226.40" x2="462.50" y2="233.50" stroke="#111" stroke-width="0.95"/>
<text x="332.00" y="231.61" font-size="4.6" text-anchor="middle" font-weight="normal" font-style="normal" fill="#222" >IG</text>
<text x="472.00" y="231.61" font-size="4.6" text-anchor="middle" font-weight="normal" font-style="normal" fill="#222" >ITAM</text>
<line x1="205.40" y1="242.80" x2="507.00" y2="242.80" stroke="#2a2a2a" stroke-width="1.3"/>
<line x1="207.70" y1="242.80" x2="207.70" y2="245.00" stroke="#2a2a2a" stroke-width="0.8"/>
<text x="207.70" y="255.10" font-size="6.6" text-anchor="middle" font-weight="normal" font-style="normal" fill="#222" >1</text>
<line x1="271.10" y1="242.80" x2="271.10" y2="245.00" stroke="#2a2a2a" stroke-width="0.8"/>
<text x="271.10" y="255.10" font-size="6.6" text-anchor="middle" font-weight="normal" font-style="normal" fill="#222" >50</text>
<line x1="335.80" y1="242.80" x2="335.80" y2="245.00" stroke="#2a2a2a" stroke-width="0.8"/>
<text x="335.80" y="255.10" font-size="6.6" text-anchor="middle" font-weight="normal" font-style="normal" fill="#222" >100</text>
<line x1="400.50" y1="242.80" x2="400.50" y2="245.00" stroke="#2a2a2a" stroke-width="0.8"/>
<text x="400.50" y="255.10" font-size="6.6" text-anchor="middle" font-weight="normal" font-style="normal" fill="#222" >150</text>
<line x1="465.20" y1="242.80" x2="465.20" y2="245.00" stroke="#2a2a2a" stroke-width="0.8"/>
<text x="465.20" y="255.10" font-size="6.6" text-anchor="middle" font-weight="normal" font-style="normal" fill="#222" >200</text>
<line x1="504.00" y1="242.80" x2="504.00" y2="245.00" stroke="#2a2a2a" stroke-width="0.8"/>
<text x="504.00" y="255.10" font-size="6.6" text-anchor="middle" font-weight="normal" font-style="normal" fill="#222" >230</text>
<text x="204.00" y="192.30" font-size="7.6" text-anchor="start" font-weight="normal" font-style="italic" fill="#1a1a1a" textLength="24.0" lengthAdjust="spacingAndGlyphs">CD79B</text>
<line x1="265.10" y1="212.70" x2="265.10" y2="226.40" stroke="#333" stroke-width="0.6"/>
<rect x="263.80" y="210.10" width="2.60" height="2.60" rx="0.35" fill="#4d9ee0"/>
<text transform="translate(267.50,206.30) rotate(-90) scale(0.87,1)" font-size="7.23" fill="#111">45</text>
<line x1="361.80" y1="212.70" x2="361.80" y2="226.40" stroke="#333" stroke-width="0.6"/>
<rect x="360.50" y="210.10" width="2.60" height="2.60" rx="0.35" fill="#4d9ee0"/>
<text transform="translate(363.70,206.00) rotate(-90) scale(0.87,1)" font-size="7.23" fill="#111">120</text>
<line x1="461.20" y1="212.70" x2="461.40" y2="226.40" stroke="#333" stroke-width="0.6"/>
<rect x="459.90" y="210.10" width="2.60" height="2.60" rx="0.35" fill="#3f9a1e"/>
<rect x="459.90" y="205.60" width="2.60" height="2.60" rx="0.35" fill="#4d9ee0"/>
<rect x="459.90" y="201.10" width="2.60" height="2.60" rx="0.35" fill="#3f9a1e"/>
<text transform="translate(463.90,198.90) rotate(-90) scale(0.87,1)" font-size="7.23" fill="#111">197</text>
<path d="M472.7,212.7 L474.2,209.7 L475.7,212.7 Z" fill="#3f9a1e"/>
<text transform="translate(476.2,205.7) rotate(-90) scale(0.87,1)" font-size="7.23" fill="#111">207</text>
<rect x="214.70" y="305.30" width="293.80" height="6.20" fill="#fff"/>
<rect x="290.10" y="298.80" width="15.70" height="19.20" fill="#e8c7bb" stroke="#5a4a46" stroke-width="0.7"/>
<rect x="306.90" y="298.80" width="15.70" height="19.20" fill="#e8c7bb" stroke="#5a4a46" stroke-width="0.7"/>
<rect x="323.80" y="298.80" width="132.70" height="19.20" fill="#e8c7bb" stroke="#5a4a46" stroke-width="0.7"/>
<rect x="438.30" y="298.80" width="68.30" height="19.20" fill="#e8c7bb" stroke="#5a4a46" stroke-width="0.7"/>
<rect x="438.30" y="298.80" width="18.20" height="19.20" fill="#cf9b8f" stroke="#5a4a46" stroke-width="0.7"/>
<rect x="214.70" y="305.30" width="293.80" height="6.20" fill="none" stroke="#3a3a3a" stroke-width="0.75"/>
<text x="297.95" y="310.06" font-size="4.6" text-anchor="middle" font-weight="normal" font-style="normal" fill="#222" >KIR</text>
<text x="314.75" y="310.06" font-size="4.6" text-anchor="middle" font-weight="normal" font-style="normal" fill="#222" >ESS</text>
<text x="381.50" y="310.06" font-size="4.6" text-anchor="middle" font-weight="normal" font-style="normal" fill="#222" >SH2</text>
<text x="473.80" y="310.06" font-size="4.6" text-anchor="middle" font-weight="normal" font-style="normal" fill="#222" >SOCSBox</text>
<line x1="212.30" y1="319.80" x2="510.80" y2="319.80" stroke="#2a2a2a" stroke-width="1.3"/>
<line x1="215.00" y1="319.80" x2="215.00" y2="322.00" stroke="#2a2a2a" stroke-width="0.8"/>
<text x="215.00" y="331.50" font-size="6.6" text-anchor="middle" font-weight="normal" font-style="normal" fill="#222" >1</text>
<line x1="283.80" y1="319.80" x2="283.80" y2="322.00" stroke="#2a2a2a" stroke-width="0.8"/>
<text x="283.80" y="331.50" font-size="6.6" text-anchor="middle" font-weight="normal" font-style="normal" fill="#222" >50</text>
<line x1="353.80" y1="319.80" x2="353.80" y2="322.00" stroke="#2a2a2a" stroke-width="0.8"/>
<text x="353.80" y="331.50" font-size="6.6" text-anchor="middle" font-weight="normal" font-style="normal" fill="#222" >100</text>
<line x1="422.60" y1="319.80" x2="422.60" y2="322.00" stroke="#2a2a2a" stroke-width="0.8"/>
<text x="422.60" y="331.50" font-size="6.6" text-anchor="middle" font-weight="normal" font-style="normal" fill="#222" >150</text>
<line x1="492.30" y1="319.80" x2="492.30" y2="322.00" stroke="#2a2a2a" stroke-width="0.8"/>
<text x="492.30" y="331.50" font-size="6.6" text-anchor="middle" font-weight="normal" font-style="normal" fill="#222" >200</text>
<line x1="508.00" y1="319.80" x2="508.00" y2="322.00" stroke="#2a2a2a" stroke-width="0.8"/>
<text x="508.00" y="331.50" font-size="6.6" text-anchor="middle" font-weight="normal" font-style="normal" fill="#222" >211</text>
<text x="204.00" y="272.40" font-size="7.8" text-anchor="start" font-weight="normal" font-style="italic" fill="#1a1a1a" textLength="24.6" lengthAdjust="spacingAndGlyphs">SOCS1</text>
<line x1="214.50" y1="296.30" x2="216.89" y2="305.30" stroke="#333" stroke-width="0.6"/>
<rect x="213.20" y="293.70" width="2.60" height="2.60" rx="0.35" fill="#4d9ee0"/>
<text transform="translate(216.20,289.00) rotate(-90) scale(0.87,1)" font-size="7.23" fill="#111">2</text>
<line x1="219.40" y1="296.30" x2="218.29" y2="305.30" stroke="#333" stroke-width="0.6"/>
<path d="M217.85,296.40 L219.40,293.35 L220.95,296.40 Z" fill="#4d9ee0"/>
<text transform="translate(223.10,289.60) rotate(-90) scale(0.87,1)" font-size="7.23" fill="#111">3</text>
<line x1="236.10" y1="296.30" x2="235.92" y2="305.30" stroke="#333" stroke-width="0.6"/>
<circle cx="236.10" cy="295.00" r="1.45" fill="#a6001a"/>
<text transform="translate(238.70,290.60) rotate(-90) scale(0.87,1)" font-size="7.23" fill="#111">16</text>
<line x1="273.50" y1="296.30" x2="273.56" y2="305.30" stroke="#333" stroke-width="0.6"/>
<rect x="272.20" y="293.70" width="2.60" height="2.60" rx="0.35" fill="#4d9ee0"/>
<text transform="translate(276.20,290.90) rotate(-90) scale(0.87,1)" font-size="7.23" fill="#111">43</text>
<line x1="303.00" y1="296.30" x2="302.85" y2="305.30" stroke="#333" stroke-width="0.6"/>
<rect x="301.70" y="293.70" width="2.60" height="2.60" rx="0.35" fill="#4d9ee0"/>
<rect x="301.70" y="289.90" width="2.60" height="2.60" rx="0.35" fill="#4d9ee0"/>
<text transform="translate(305.80,288.30) rotate(-90) scale(0.87,1)" font-size="7.23" fill="#111">64</text>
<line x1="326.50" y1="296.30" x2="326.55" y2="305.30" stroke="#333" stroke-width="0.6"/>
<circle cx="326.50" cy="295.00" r="1.45" fill="#a6001a"/>
<text transform="translate(329.30,291.00) rotate(-90) scale(0.87,1)" font-size="7.23" fill="#111">81</text>
<line x1="354.40" y1="296.30" x2="354.44" y2="305.30" stroke="#333" stroke-width="0.6"/>
<path d="M352.85,296.40 L354.40,293.35 L355.95,296.40 Z" fill="#a6001a"/>
<text transform="translate(356.80,288.80) rotate(-90) scale(0.87,1)" font-size="7.23" fill="#111">101</text>
<line x1="374.50" y1="296.30" x2="375.36" y2="305.30" stroke="#333" stroke-width="0.6"/>
<rect x="373.20" y="293.70" width="2.60" height="2.60" rx="0.35" fill="#4d9ee0"/>
<rect x="373.20" y="289.90" width="2.60" height="2.60" rx="0.35" fill="#4d9ee0"/>
<rect x="373.20" y="286.10" width="2.60" height="2.60" rx="0.35" fill="#4d9ee0"/>
<text transform="translate(376.90,281.30) rotate(-90) scale(0.87,1)" font-size="7.23" fill="#111">116</text>
<line x1="379.20" y1="296.30" x2="378.14" y2="305.30" stroke="#333" stroke-width="0.6"/>
<path d="M377.65,296.40 L379.20,293.35 L380.75,296.40 Z" fill="#a6001a"/>
<text transform="translate(383.10,288.80) rotate(-90) scale(0.87,1)" font-size="7.23" fill="#111">118</text>
<line x1="385.30" y1="296.30" x2="385.12" y2="305.30" stroke="#333" stroke-width="0.6"/>
<rect x="384.00" y="293.70" width="2.60" height="2.60" rx="0.35" fill="#4d9ee0"/>
<text transform="translate(389.60,290.60) rotate(-90) scale(0.87,1)" font-size="7.23" fill="#111">123</text>
<line x1="450.80" y1="296.30" x2="450.65" y2="305.30" stroke="#333" stroke-width="0.6"/>
<circle cx="450.80" cy="295.00" r="1.45" fill="#a6001a"/>
<text transform="translate(453.80,288.70) rotate(-90) scale(0.87,1)" font-size="7.23" fill="#111">170</text>
<line x1="466.50" y1="296.30" x2="465.99" y2="305.30" stroke="#333" stroke-width="0.6"/>
<circle cx="466.50" cy="295.00" r="1.45" fill="#a6001a"/>
<text transform="translate(469.30,288.70) rotate(-90) scale(0.87,1)" font-size="7.23" fill="#111">181</text>
<line x1="487.70" y1="296.30" x2="488.30" y2="305.30" stroke="#333" stroke-width="0.6"/>
<rect x="486.40" y="293.70" width="2.60" height="2.60" rx="0.35" fill="#4d9ee0"/>
<text transform="translate(489.80,291.00) rotate(-90) scale(0.87,1)" font-size="7.23" fill="#111">197</text>
<line x1="492.30" y1="296.30" x2="491.09" y2="305.30" stroke="#333" stroke-width="0.6"/>
<circle cx="492.30" cy="295.00" r="1.45" fill="#a6001a"/>
<text transform="translate(495.40,291.00) rotate(-90) scale(0.87,1)" font-size="7.23" fill="#111">199</text>
<rect x="212.40" y="379.30" width="296.20" height="4.80" fill="#fff"/>
<rect x="227.30" y="373.90" width="11.40" height="15.60" fill="#e8c7bb" stroke="#5a4a46" stroke-width="0.7"/>
<rect x="275.40" y="373.90" width="35.00" height="15.60" fill="#e8c7bb" stroke="#5a4a46" stroke-width="0.7"/>
<rect x="383.50" y="373.90" width="20.30" height="15.60" fill="#e8c7bb" stroke="#5a4a46" stroke-width="0.7"/>
<rect x="410.40" y="373.90" width="45.70" height="15.60" fill="#e8c7bb" stroke="#5a4a46" stroke-width="0.7"/>
<rect x="456.10" y="373.90" width="47.10" height="15.60" fill="#e8c7bb" stroke="#5a4a46" stroke-width="0.7"/>
<rect x="212.40" y="379.30" width="296.20" height="4.80" fill="none" stroke="#3a3a3a" stroke-width="0.75"/>
<line x1="244.20" y1="379.30" x2="244.20" y2="384.10" stroke="#111" stroke-width="0.95"/>
<line x1="260.60" y1="379.30" x2="260.60" y2="384.10" stroke="#111" stroke-width="0.95"/>
<line x1="277.20" y1="379.30" x2="277.20" y2="384.10" stroke="#111" stroke-width="0.95"/>
<line x1="295.70" y1="379.30" x2="295.70" y2="384.10" stroke="#111" stroke-width="0.95"/>
<line x1="308.20" y1="379.30" x2="308.20" y2="384.10" stroke="#111" stroke-width="0.95"/>
<line x1="332.20" y1="379.30" x2="332.20" y2="384.10" stroke="#111" stroke-width="0.95"/>
<line x1="343.80" y1="379.30" x2="343.80" y2="384.10" stroke="#111" stroke-width="0.95"/>
<line x1="375.90" y1="379.30" x2="375.90" y2="384.10" stroke="#111" stroke-width="0.95"/>
<line x1="398.00" y1="379.30" x2="398.00" y2="384.10" stroke="#111" stroke-width="0.95"/>
<line x1="415.70" y1="379.30" x2="415.70" y2="384.10" stroke="#111" stroke-width="0.95"/>
<line x1="432.30" y1="379.30" x2="432.30" y2="384.10" stroke="#111" stroke-width="0.95"/>
<line x1="468.80" y1="379.30" x2="468.80" y2="384.10" stroke="#111" stroke-width="0.95"/>
<line x1="479.60" y1="379.30" x2="479.60" y2="384.10" stroke="#111" stroke-width="0.95"/>
<line x1="489.50" y1="379.30" x2="489.50" y2="384.10" stroke="#111" stroke-width="0.95"/>
<line x1="501.50" y1="379.30" x2="501.50" y2="384.10" stroke="#111" stroke-width="0.95"/>
<text x="233.00" y="383.36" font-size="4.6" text-anchor="middle" font-weight="normal" font-style="normal" fill="#222" >WDB</text>
<text x="291.00" y="383.36" font-size="4.6" text-anchor="middle" font-weight="normal" font-style="normal" fill="#222" >SANT</text>
<text x="390.90" y="383.36" font-size="4.6" text-anchor="middle" font-weight="normal" font-style="normal" fill="#222" >SANT</text>
<text x="444.30" y="383.36" font-size="4.6" text-anchor="middle" font-weight="normal" font-style="normal" fill="#222" >CXC</text>
<text x="484.90" y="383.36" font-size="4.6" text-anchor="middle" font-weight="normal" font-style="normal" fill="#222" >SET</text>
<line x1="210.50" y1="391.10" x2="510.00" y2="391.10" stroke="#2a2a2a" stroke-width="1.3"/>
<line x1="212.40" y1="391.10" x2="212.40" y2="393.30" stroke="#2a2a2a" stroke-width="0.8"/>
<text x="212.40" y="402.60" font-size="6.6" text-anchor="middle" font-weight="normal" font-style="normal" fill="#222" >1</text>
<line x1="291.10" y1="391.10" x2="291.10" y2="393.30" stroke="#2a2a2a" stroke-width="0.8"/>
<text x="291.10" y="402.60" font-size="6.6" text-anchor="middle" font-weight="normal" font-style="normal" fill="#222" >200</text>
<line x1="370.50" y1="391.10" x2="370.50" y2="393.30" stroke="#2a2a2a" stroke-width="0.8"/>
<text x="370.50" y="402.60" font-size="6.6" text-anchor="middle" font-weight="normal" font-style="normal" fill="#222" >400</text>
<line x1="449.00" y1="391.10" x2="449.00" y2="393.30" stroke="#2a2a2a" stroke-width="0.8"/>
<text x="449.00" y="402.60" font-size="6.6" text-anchor="middle" font-weight="normal" font-style="normal" fill="#222" >600</text>
<line x1="507.90" y1="391.10" x2="507.90" y2="393.30" stroke="#2a2a2a" stroke-width="0.8"/>
<text x="507.90" y="402.60" font-size="6.6" text-anchor="middle" font-weight="normal" font-style="normal" fill="#222" >751</text>
<text x="204.30" y="344.90" font-size="7.6" text-anchor="start" font-weight="normal" font-style="italic" fill="#1a1a1a" textLength="19.0" lengthAdjust="spacingAndGlyphs">EZH2</text>
<line x1="467.10" y1="369.45" x2="467.00" y2="379.30" stroke="#333" stroke-width="0.6"/>
<rect x="465.75" y="366.75" width="2.70" height="2.70" rx="0.35" fill="#a6001a"/>
<rect x="465.75" y="363.07" width="2.70" height="2.70" rx="0.35" fill="#a6001a"/>
<rect x="465.75" y="359.39" width="2.70" height="2.70" rx="0.35" fill="#4d9ee0"/>
<rect x="465.75" y="355.71" width="2.70" height="2.70" rx="0.35" fill="#4d9ee0"/>
<rect x="465.75" y="352.03" width="2.70" height="2.70" rx="0.35" fill="#4d9ee0"/>
<rect x="465.75" y="348.35" width="2.70" height="2.70" rx="0.35" fill="#f0b800"/>
<text transform="translate(469.50,345.90) rotate(-90) scale(0.87,1)" font-size="7.23" fill="#111">646</text>
<rect x="212.70" y="454.80" width="295.20" height="8.60" fill="#fff"/>
<rect x="225.90" y="446.90" width="220.70" height="24.20" fill="#e8c7bb" stroke="#5a4a46" stroke-width="0.7"/>
<rect x="251.10" y="446.90" width="12.20" height="24.20" fill="#cf9b8f" stroke="#5a4a46" stroke-width="0.7"/>
<rect x="305.40" y="446.90" width="10.10" height="24.20" fill="#cf9b8f" stroke="#5a4a46" stroke-width="0.7"/>
<rect x="453.30" y="446.90" width="36.10" height="24.20" fill="#e8c7bb" stroke="#5a4a46" stroke-width="0.7"/>
<rect x="487.60" y="446.90" width="19.50" height="24.20" fill="#e8c7bb" stroke="#5a4a46" stroke-width="0.7"/>
<rect x="487.60" y="446.90" width="1.80" height="24.20" fill="#cf9b8f" stroke="#5a4a46" stroke-width="0.7"/>
<rect x="212.70" y="454.80" width="295.20" height="8.60" fill="none" stroke="#3a3a3a" stroke-width="0.75"/>
<line x1="219.40" y1="454.80" x2="219.40" y2="463.40" stroke="#111" stroke-width="0.95"/>
<line x1="386.00" y1="454.80" x2="386.00" y2="463.40" stroke="#111" stroke-width="0.95"/>
<text x="338.00" y="460.76" font-size="4.6" text-anchor="middle" font-weight="normal" font-style="normal" fill="#222" >TAD</text>
<text x="257.20" y="460.76" font-size="4.6" text-anchor="middle" font-weight="normal" font-style="normal" fill="#222" >MBI</text>
<text x="310.45" y="460.76" font-size="4.6" text-anchor="middle" font-weight="normal" font-style="normal" fill="#222" >MBII</text>
<text x="471.70" y="460.76" font-size="4.6" text-anchor="middle" font-weight="normal" font-style="normal" fill="#222" >HLH</text>
<text x="497.70" y="460.76" font-size="4.6" text-anchor="middle" font-weight="normal" font-style="normal" fill="#222" >Myc LZ</text>
<line x1="210.50" y1="473.50" x2="509.50" y2="473.50" stroke="#2a2a2a" stroke-width="1.3"/>
<line x1="213.30" y1="473.50" x2="213.30" y2="475.70" stroke="#2a2a2a" stroke-width="0.8"/>
<text x="213.30" y="485.50" font-size="6.6" text-anchor="middle" font-weight="normal" font-style="normal" fill="#222" >1</text>
<line x1="277.60" y1="473.50" x2="277.60" y2="475.70" stroke="#2a2a2a" stroke-width="0.8"/>
<text x="277.60" y="485.50" font-size="6.6" text-anchor="middle" font-weight="normal" font-style="normal" fill="#222" >100</text>
<line x1="342.40" y1="473.50" x2="342.40" y2="475.70" stroke="#2a2a2a" stroke-width="0.8"/>
<text x="342.40" y="485.50" font-size="6.6" text-anchor="middle" font-weight="normal" font-style="normal" fill="#222" >200</text>
<line x1="407.60" y1="473.50" x2="407.60" y2="475.70" stroke="#2a2a2a" stroke-width="0.8"/>
<text x="407.60" y="485.50" font-size="6.6" text-anchor="middle" font-weight="normal" font-style="normal" fill="#222" >300</text>
<line x1="472.40" y1="473.50" x2="472.40" y2="475.70" stroke="#2a2a2a" stroke-width="0.8"/>
<text x="472.40" y="485.50" font-size="6.6" text-anchor="middle" font-weight="normal" font-style="normal" fill="#222" >400</text>
<line x1="507.80" y1="473.50" x2="507.80" y2="475.70" stroke="#2a2a2a" stroke-width="0.8"/>
<text x="507.80" y="485.50" font-size="6.6" text-anchor="middle" font-weight="normal" font-style="normal" fill="#222" >454</text>
<text x="203.90" y="418.50" font-size="7.6" text-anchor="start" font-weight="normal" font-style="italic" fill="#1a1a1a" textLength="17.4" lengthAdjust="spacingAndGlyphs">MYC</text>
<line x1="223.40" y1="438.80" x2="223.40" y2="454.80" stroke="#333" stroke-width="0.6"/>
<rect x="222.10" y="436.20" width="2.60" height="2.60" rx="0.35" fill="#f0b800"/>
<text transform="translate(225.70,431.90) rotate(-90) scale(0.87,1)" font-size="7.23" fill="#111">17</text>
<line x1="247.70" y1="438.80" x2="247.70" y2="454.80" stroke="#333" stroke-width="0.6"/>
<rect x="246.40" y="436.20" width="2.60" height="2.60" rx="0.35" fill="#f0b800"/>
<text transform="translate(249.30,433.10) rotate(-90) scale(0.87,1)" font-size="7.23" fill="#111">54</text>
<line x1="255.40" y1="438.80" x2="257.70" y2="454.80" stroke="#333" stroke-width="0.6"/>
<path d="M253.85,438.90 L255.40,435.85 L256.95,438.90 Z" fill="#f0b800"/>
<text transform="translate(256.30,431.90) rotate(-90) scale(0.87,1)" font-size="7.23" fill="#111">69</text>
<line x1="259.40" y1="438.80" x2="259.40" y2="454.80" stroke="#333" stroke-width="0.6"/>
<rect x="258.10" y="436.20" width="2.60" height="2.60" rx="0.35" fill="#f0b800"/>
<text transform="translate(261.50,430.80) rotate(-90) scale(0.87,1)" font-size="7.23" fill="#111">72</text>
<line x1="263.20" y1="438.80" x2="261.70" y2="454.80" stroke="#333" stroke-width="0.6"/>
<rect x="261.90" y="436.20" width="2.60" height="2.60" rx="0.35" fill="#4d9ee0"/>
<rect x="261.90" y="431.20" width="2.60" height="2.60" rx="0.35" fill="#f0b800"/>
<text transform="translate(268.70,428.50) rotate(-90) scale(0.87,1)" font-size="7.23" fill="#111">75</text>
<line x1="286.20" y1="438.80" x2="286.20" y2="454.80" stroke="#333" stroke-width="0.6"/>
<rect x="284.90" y="436.20" width="2.60" height="2.60" rx="0.35" fill="#f0b800"/>
<text transform="translate(288.30,433.90) rotate(-90) scale(0.87,1)" font-size="7.23" fill="#111">113</text>
<line x1="319.30" y1="438.80" x2="319.30" y2="454.80" stroke="#333" stroke-width="0.6"/>
<rect x="318.00" y="436.20" width="2.60" height="2.60" rx="0.35" fill="#f0b800"/>
<text transform="translate(321.30,433.90) rotate(-90) scale(0.87,1)" font-size="7.23" fill="#111">164</text>
<text x="344.2" y="496.6" font-size="7.8" fill="#111" stroke="#111" stroke-width="0.25" textLength="36.2" lengthAdjust="spacingAndGlyphs">Amino acids</text>
</svg>
</body></html>
